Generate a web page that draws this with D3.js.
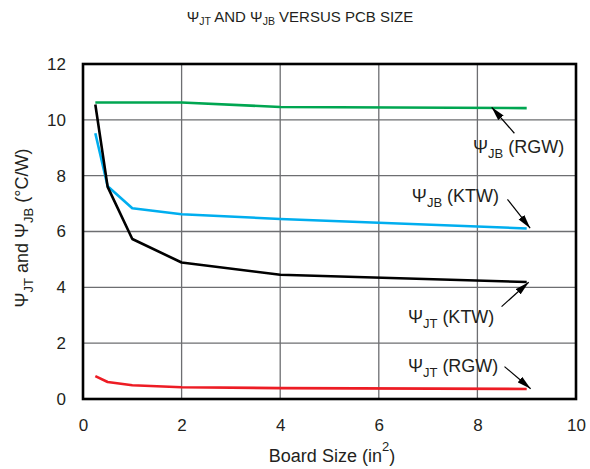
<!DOCTYPE html>
<html>
<head>
<meta charset="utf-8">
<script src="https://cdn.jsdelivr.net/npm/d3@7"></script>
<style>
  body { margin: 0; background: #fff; }
  text { font-family: "Liberation Sans", Arial, sans-serif; fill: #231f20; }
</style>
</head>
<body>
<div id="chart"></div>
<script>
// board sizes (in^2)
var boardSize = [0.25, 0.5, 1, 2, 4, 9];
var jbRGW = [10.62, 10.62, 10.62, 10.62, 10.46, 10.42];
var jbKTW = [9.52, 7.62, 6.83, 6.62, 6.45, 6.11];
var jtKTW = [10.55, 7.6, 5.73, 4.89, 4.45, 4.19];
var jtRGW = [0.82, 0.61, 0.49, 0.42, 0.39, 0.36];

var xTicks = [0, 2, 4, 6, 8, 10];
var yTicks = [0, 2, 4, 6, 8, 10, 12];

var series = [
  { name: "jbRGW", values: jbRGW, color: "#00a651" },
  { name: "jbKTW", values: jbKTW, color: "#00aeef" },
  { name: "jtKTW", values: jtKTW, color: "#000000" },
  { name: "jtRGW", values: jtRGW, color: "#ed1c24" }
];

// label text, label pos (data units), arrow tail/tip (data units)
var notes = [
  { sub: "JB", pkg: "(RGW)", lx: 7.91, ly: 8.82, tail: [8.75, 9.52], tip: [8.29, 10.45] },
  { sub: "JB", pkg: "(KTW)", lx: 6.67, ly: 7.07, tail: [8.61, 7.15], tip: [9.07, 6.12] },
  { sub: "JT", pkg: "(KTW)", lx: 6.59, ly: 2.72, tail: [8.49, 3.31], tip: [9.04, 4.18] },
  { sub: "JT", pkg: "(RGW)", lx: 6.59, ly: 0.98, tail: [8.55, 1.16], tip: [9.08, 0.37] }
];

var margin = { top: 64, right: 14, bottom: 70, left: 83 };
var width = 590 - margin.left - margin.right;
var height = 469 - margin.top - margin.bottom;

var svg = d3.select("#chart").append("svg")
  .attr("width", 590)
  .attr("height", 469);

var defs = svg.append("defs");
defs.append("marker")
  .attr("id", "head")
  .attr("viewBox", "0 0 10 10")
  .attr("refX", 10).attr("refY", 5)
  .attr("markerWidth", 14).attr("markerHeight", 8)
  .attr("markerUnits", "userSpaceOnUse")
  .attr("orient", "auto")
  .attr("preserveAspectRatio", "none")
  .append("path")
  .attr("d", "M0,0.5 L10,5 L0,9.5 Z")
  .attr("fill", "#000");

var g = svg.append("g")
  .attr("transform", "translate(" + margin.left + "," + margin.top + ")");

var x = d3.scaleLinear().domain([0, 10]).range([0, width]);
var y = d3.scaleLinear().domain([0, 12]).range([height, 0]);

// grid
g.append("g").selectAll("line")
  .data(xTicks.slice(1, -1))
  .enter().append("line")
  .attr("x1", d => x(d)).attr("x2", d => x(d))
  .attr("y1", 0).attr("y2", height)
  .attr("stroke", "#6d6e71").attr("stroke-width", 1.3);

g.append("g").selectAll("line")
  .data(yTicks.slice(1, -1))
  .enter().append("line")
  .attr("x1", 0).attr("x2", width)
  .attr("y1", d => y(d)).attr("y2", d => y(d))
  .attr("stroke", "#6d6e71").attr("stroke-width", 1.3);

// axes (labels only)
var xAxis = g.append("g")
  .attr("transform", "translate(0," + height + ")")
  .call(d3.axisBottom(x).tickValues(xTicks).tickSize(0).tickPadding(20));
var yAxis = g.append("g")
  .call(d3.axisLeft(y).tickValues(yTicks).tickSize(0).tickPadding(17));
[xAxis, yAxis].forEach(function(a) {
  a.select(".domain").remove();
  a.selectAll("text").attr("font-size", 17).attr("fill", "#231f20")
    .attr("font-family", "Liberation Sans, Arial, sans-serif");
});

// lines
var line = d3.line()
  .x((d, i) => x(boardSize[i]))
  .y(d => y(d));

g.selectAll("path.series")
  .data(series)
  .enter().append("path")
  .attr("class", "series")
  .attr("d", d => line(d.values))
  .attr("fill", "none")
  .attr("stroke", d => d.color)
  .attr("stroke-width", 2.6)
  .attr("stroke-linejoin", "round");

// box
g.append("rect")
  .attr("width", width).attr("height", height)
  .attr("fill", "none").attr("stroke", "#000").attr("stroke-width", 2.6);

// annotations
notes.forEach(function(n) {
  g.append("line")
    .attr("x1", x(n.tail[0])).attr("y1", y(n.tail[1]))
    .attr("x2", x(n.tip[0])).attr("y2", y(n.tip[1]))
    .attr("stroke", "#000").attr("stroke-width", 1.2)
    .attr("marker-end", "url(#head)");
  var t = g.append("text")
    .attr("x", x(n.lx)).attr("y", y(n.ly))
    .attr("font-size", 18);
  t.append("tspan").text("\u03A8");
  t.append("tspan").attr("font-size", 13).attr("dy", 5).text(n.sub);
  t.append("tspan").attr("dy", -5).text(" " + n.pkg);
});

// title
var title = svg.append("text")
  .attr("x", 300).attr("y", 22)
  .attr("text-anchor", "middle")
  .attr("font-size", 15);
title.append("tspan").text("\u03A8");
title.append("tspan").attr("font-size", 10.5).attr("dy", 3).text("JT");
title.append("tspan").attr("dy", -3).text(" AND \u03A8");
title.append("tspan").attr("font-size", 10.5).attr("dy", 3).text("JB");
title.append("tspan").attr("dy", -3).text(" VERSUS PCB SIZE");

// x title
var xt = svg.append("text")
  .attr("x", 332).attr("y", 462)
  .attr("text-anchor", "middle")
  .attr("font-size", 18);
xt.append("tspan").text("Board Size (in");
xt.append("tspan").attr("font-size", 13).attr("dy", -11).text("2");
xt.append("tspan").attr("dy", 11).text(")");

// y title
var yt = svg.append("text")
  .attr("transform", "translate(28,228) rotate(-90)")
  .attr("text-anchor", "middle")
  .attr("font-size", 18);
yt.append("tspan").text("\u03A8");
yt.append("tspan").attr("font-size", 13).attr("dy", 5).text("JT");
yt.append("tspan").attr("dy", -5).text(" and \u03A8");
yt.append("tspan").attr("font-size", 13).attr("dy", 5).text("JB");
yt.append("tspan").attr("dy", -5).text(" (\u00B0C/W)");
</script>
</body>
</html>
